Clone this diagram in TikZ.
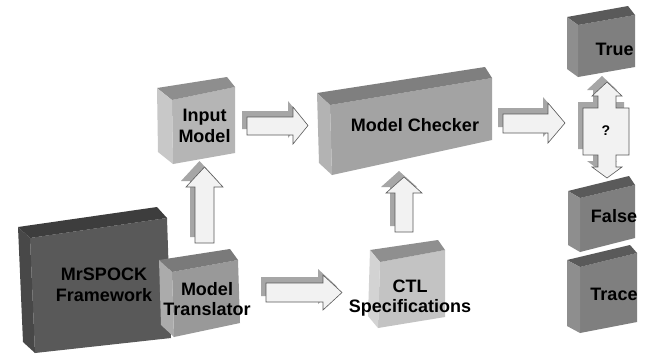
\documentclass[tikz,border=0pt]{standalone}
\usepackage{fontspec}
\setmainfont{Liberation Sans}
\usetikzlibrary{calc}
\definecolor{mrfront}{HTML}{595959}
\definecolor{mrtop}{HTML}{3D3D3D}
\definecolor{mrside}{HTML}{484848}
\definecolor{trfront}{HTML}{999999}
\definecolor{trtop}{HTML}{7A7A7A}
\definecolor{trside}{HTML}{ABABAB}
\definecolor{infront}{HTML}{B5B5B5}
\definecolor{intop}{HTML}{8E8E8E}
\definecolor{inside}{HTML}{C8C8C8}
\definecolor{mcfront}{HTML}{A3A3A3}
\definecolor{mctop}{HTML}{7F7F7F}
\definecolor{mcside}{HTML}{B3B3B3}
\definecolor{ctfront}{HTML}{C3C3C3}
\definecolor{cttop}{HTML}{8F8F8F}
\definecolor{ctside}{HTML}{D3D3D3}
\definecolor{rsfront}{HTML}{7F7F7F}
\definecolor{rstop}{HTML}{5A5A5A}
\definecolor{rsside}{HTML}{8E8E8E}
\definecolor{shadowc}{HTML}{A6A6A6}
\definecolor{arrowfill}{HTML}{F2F2F2}
\definecolor{arrowline}{HTML}{5A5A5A}
\tikzset{
  lbl/.style={font=\fontsize{18}{20.5}\selectfont\bfseries, align=center, text=black, inner sep=0pt},
  arrowbody/.style={fill=arrowfill, draw=arrowline, line width=0.6pt, line join=miter},
  arrowshadow/.style={fill=shadowc, shift={(-5,-6)}}
}
% 3D box: #1 TL, #2 TR, #3 BR, #4 BL, #5 left depth, #6 right depth, #7 colour prefix
\newcommand\boxthree[7]{%
  \fill[#7front] #1 -- #2 -- #3 -- #4 -- cycle;
  \fill[#7top] #1 -- #2 -- ($#2+#6$) -- ($#1+#5$) -- cycle;
  \fill[#7side] #1 -- #4 -- ($#4+#5$) -- ($#1+#5$) -- cycle;
}
% right arrow: x0, xbase, xtip, y1, y2, h1, h2
\newcommand\harrow[7]{%
  \fill[arrowshadow] (#1,#4) -- (#2,#4) -- (#2,#6) -- (#3,{(#6+#7)/2}) -- (#2,#7) -- (#2,#5) -- (#1,#5) -- cycle;
  \filldraw[arrowbody] (#1,#4) -- (#2,#4) -- (#2,#6) -- (#3,{(#6+#7)/2}) -- (#2,#7) -- (#2,#5) -- (#1,#5) -- cycle;
}
% up arrow: x1, x2 (shaft), h1, h2 (head), ybottom, ybase, ytip
\newcommand\varrow[7]{%
  \fill[arrowshadow] (#1,#5) -- (#1,#6) -- (#3,#6) -- ({(#3+#4)/2},#7) -- (#4,#6) -- (#2,#6) -- (#2,#5) -- cycle;
  \filldraw[arrowbody] (#1,#5) -- (#1,#6) -- (#3,#6) -- ({(#3+#4)/2},#7) -- (#4,#6) -- (#2,#6) -- (#2,#5) -- cycle;
}
\begin{document}
\begin{tikzpicture}[x=1pt,y=-1pt]
\useasboundingbox (0,0) rectangle (658,354);
\fill[white] (0,0) rectangle (658,354);

% boxes
\boxthree{(30,238)}{(167,218)}{(171,338)}{(35,353)}{(-12,-11)}{(-10,-11)}{mr}
\boxthree{(172,272)}{(238,260)}{(240,323)}{(174,337)}{(-13,-12)}{(-8,-11)}{tr}
\boxthree{(172,100)}{(235,87)}{(235,153)}{(173,164)}{(-15,-12)}{(-8,-10)}{in}
\boxthree{(330,105)}{(492,78)}{(492,140)}{(332,175)}{(-13,-12)}{(-7,-11)}{mc}
\boxthree{(380,262)}{(445,250)}{(445,317)}{(378,328)}{(-10,-12)}{(-7,-10)}{ct}
\boxthree{(578,25)}{(635,15)}{(635,67)}{(578,77)}{(-11,-8)}{(-7,-9)}{rs}
\boxthree{(580,198)}{(635,185)}{(635,238)}{(580,252)}{(-12,-7)}{(-6,-9)}{rs}
\boxthree{(580,267)}{(637,253)}{(637,322)}{(580,333)}{(-13,-7)}{(-7,-8)}{rs}

% block arrows
\harrow{247}{293}{308}{117}{135}{107}{144}
\harrow{266}{323}{342}{283}{302}{275}{310}
\harrow{503}{548}{565}{114}{133}{103}{143}
\varrow{195}{214}{186}{223}{243}{187}{167}
\varrow{395}{413}{386}{422}{232}{193}{177}

% double arrow with question mark
\fill[arrowshadow] (607,82) -- (622,96) -- (616,96) -- (616,108) -- (629,108) -- (629,155) -- (616,155) -- (616,167) -- (622,167) -- (607,178) -- (592,167) -- (598,167) -- (598,155) -- (583,155) -- (583,108) -- (598,108) -- (598,96) -- (592,96) -- cycle;
\filldraw[arrowbody] (607,82) -- (622,96) -- (616,96) -- (616,108) -- (629,108) -- (629,155) -- (616,155) -- (616,167) -- (622,167) -- (607,178) -- (592,167) -- (598,167) -- (598,155) -- (583,155) -- (583,108) -- (598,108) -- (598,96) -- (592,96) -- cycle;

% labels
\node[lbl] (mrspock) at (104,285) {MrSPOCK\\Framework};
\node[lbl] (translator) at (207,299) {Model\\Translator};
\node[lbl] (input) at (204.5,126) {Input\\Model};
\node[lbl] (checker) at (415,125) {Model Checker};
\node[lbl] (ctl) at (410,298) {CTL\\Specifications};
\node[lbl] (true) at (614.5,49) {True};
\node[lbl] (false) at (614,216) {False};
\node[lbl] (trace) at (614,294) {Trace};
\node[lbl, font=\fontsize{14}{16}\selectfont\bfseries] (q) at (606,131) {?};
\end{tikzpicture}
\end{document}
